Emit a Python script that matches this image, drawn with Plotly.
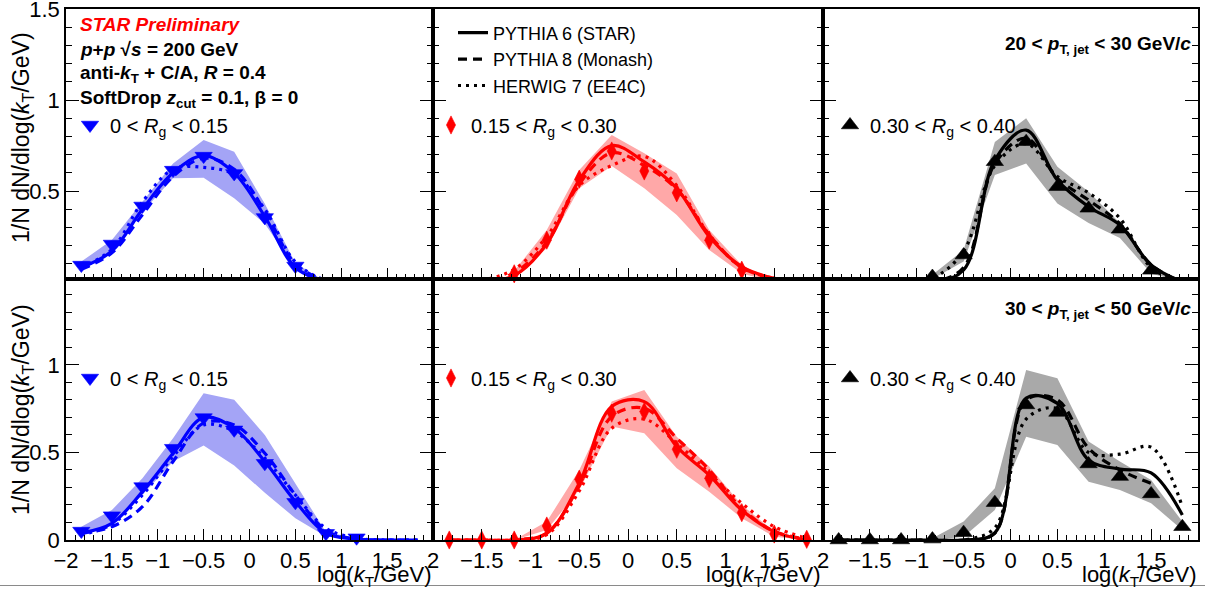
import plotly.graph_objects as go

# ---------------- data ----------------
XC = [-1.833, -1.5, -1.167, -0.833, -0.5, -0.167, 0.167, 0.5, 0.833, 1.167, 1.5, 1.833]

# 20 < pT < 30, 0 < Rg < 0.15 (blue)
tl_pts = [0.093, 0.209, 0.418, 0.615, 0.692, 0.597, 0.355, 0.088, None, None, None, None]
tl_hi = [0.112, 0.231, 0.441, 0.652, 0.780, 0.716, 0.430, 0.104, 0.0, None, None, None]
tl_lo = [0.066, 0.176, 0.386, 0.570, 0.573, 0.460, 0.320, 0.075, 0.0, None, None, None]
tl_p6 = [0.08, 0.17, 0.40, 0.60, 0.695, 0.60, 0.36, 0.08, 0.005, 0.0, None, None]
tl_p8 = [0.07, 0.16, 0.37, 0.58, 0.68, 0.62, 0.39, 0.10, 0.01, 0.0, None, None]
tl_h7 = [0.08, 0.18, 0.44, 0.62, 0.63, 0.59, 0.40, 0.11, 0.01, 0.0, None, None]

# 20 < pT < 30, 0.15 < Rg < 0.30 (red)
tm_pts = [None, None, 0.045, 0.23, 0.565, 0.72, 0.61, 0.49, 0.23, 0.065, None, None]
tm_hi = [None, None, 0.06, 0.286, 0.615, 0.808, 0.707, 0.597, 0.286, 0.093, 0.0, None]
tm_lo = [None, None, 0.03, 0.185, 0.515, 0.637, 0.515, 0.368, 0.176, 0.047, 0.0, None]
tm_p6 = [0.0, 0.0, 0.035, 0.21, 0.56, 0.75, 0.66, 0.515, 0.25, 0.084, 0.02, 0.0]
tm_p8 = [0.0, 0.0, 0.05, 0.22, 0.54, 0.71, 0.64, 0.51, 0.26, 0.08, 0.02, 0.0]
tm_h7 = [0.0, 0.01, 0.07, 0.25, 0.53, 0.64, 0.69, 0.53, 0.26, 0.08, 0.02, 0.0]

# 20 < pT < 30, 0.30 < Rg < 0.40 (black)
tr_pts = [None, None, None, 0.03, 0.148, 0.661, 0.771, 0.524, 0.405, 0.29, 0.064, None]
tr_hi = [None, None, None, 0.04, 0.176, 0.77, 0.90, 0.634, 0.496, 0.324, 0.093, 0.0]
tr_lo = [None, None, None, 0.017, 0.112, 0.588, 0.652, 0.432, 0.324, 0.242, 0.047, 0.0]
tr_p6 = [0.0, 0.0, 0.0, 0.0, 0.066, 0.67, 0.835, 0.56, 0.414, 0.313, 0.093, 0.0]
tr_p8 = [0.0, 0.0, 0.0, 0.0, 0.08, 0.65, 0.79, 0.57, 0.45, 0.32, 0.095, 0.0]
tr_h7 = [0.0, 0.0, 0.0, 0.02, 0.17, 0.64, 0.76, 0.58, 0.49, 0.35, 0.08, 0.0]

# 30 < pT < 50, 0 < Rg < 0.15 (blue)
bl_pts = [0.051, 0.139, 0.305, 0.524, 0.699, 0.629, 0.438, 0.215, 0.038, 0.013, None, None]
bl_hi = [0.076, 0.171, 0.352, 0.581, 0.838, 0.80, 0.60, 0.32, 0.045, 0.01, None, None]
bl_lo = [0.019, 0.095, 0.257, 0.448, 0.539, 0.425, 0.27, 0.124, 0.02, 0.0, None, None]
bl_p6 = [0.04, 0.095, 0.276, 0.495, 0.70, 0.638, 0.448, 0.22, 0.04, 0.005, 0.0, 0.0]
bl_p8 = [0.04, 0.076, 0.19, 0.448, 0.667, 0.657, 0.495, 0.257, 0.055, 0.005, 0.0, 0.0]
bl_h7 = [0.03, 0.09, 0.257, 0.476, 0.657, 0.62, 0.467, 0.257, 0.067, 0.01, 0.0, 0.0]

# 30 < pT < 50, 0.15 < Rg < 0.30 (red)
bm_pts = [0.0, 0.0, 0.0, 0.08, 0.347, 0.724, 0.733, 0.518, 0.352, 0.156, 0.034, 0.004]
bm_hi = [None, None, 0.0, 0.105, 0.40, 0.79, 0.857, 0.59, 0.419, 0.20, 0.048, 0.005]
bm_lo = [None, None, 0.0, 0.057, 0.286, 0.648, 0.61, 0.41, 0.276, 0.124, 0.019, 0.0]
bm_p6 = [0.0, 0.0, 0.0, 0.038, 0.324, 0.762, 0.79, 0.533, 0.371, 0.171, 0.048, 0.0]
bm_p8 = [0.0, 0.0, 0.0, 0.04, 0.31, 0.705, 0.752, 0.581, 0.40, 0.18, 0.05, 0.005]
bm_h7 = [0.0, 0.0, 0.0, 0.03, 0.28, 0.638, 0.69, 0.552, 0.381, 0.21, 0.076, 0.01]

# 30 < pT < 50, 0.30 < Rg < 0.40 (black)
br_pts = [0.0, 0.0, 0.0, 0.005, 0.042, 0.213, 0.771, 0.728, 0.434, 0.362, 0.263, 0.076]
br_hi = [None, None, None, 0.01, 0.105, 0.295, 0.971, 0.924, 0.562, 0.448, 0.343, 0.105]
br_lo = [None, None, None, 0.0, 0.019, 0.171, 0.59, 0.543, 0.333, 0.286, 0.21, 0.057]
br_p6 = [0.0, 0.0, 0.0, 0.0, 0.0, 0.04, 0.81, 0.78, 0.457, 0.405, 0.383, 0.143]
br_p8 = [0.0, 0.0, 0.0, 0.0, 0.0, 0.04, 0.80, 0.80, 0.524, 0.40, 0.324, None]
br_h7 = [0.0, 0.0, 0.0, 0.0, 0.0, 0.07, 0.69, 0.75, 0.50, 0.49, 0.53, 0.19]

RG_LABELS = ["0 < <i>R</i><sub>g</sub> < 0.15",
             "0.15 < <i>R</i><sub>g</sub> < 0.30",
             "0.30 < <i>R</i><sub>g</sub> < 0.40"]
MODEL_NAMES = ["PYTHIA 6 (STAR)", "PYTHIA 8 (Monash)", "HERWIG 7 (EE4C)"]
X_TICKS_L = [-2, -1.5, -1, -0.5, 0, 0.5, 1, 1.5, 2]
X_TICKS_M = [-1.5, -1, -0.5, 0, 0.5, 1, 1.5, 2]
X_TICKS_R = [-1.5, -1, -0.5, 0, 0.5, 1, 1.5]

# ---------------- styling ----------------
W, H = 1208, 590
FONT = "Liberation Sans, Arial, Helvetica, sans-serif"
COLORS = ["#0000ff", "#ff0000", "#000000"]
BANDS = ["#a4a4f6", "#ffa8a8", "#a9a9a9"]
SYMBOLS = ["triangle-down", "diamond-tall", "triangle-up"]
SIZES = [15, 13, 15]
DASHES = ["solid", "9px,6px", "3px,5px"]

def px(x):
    return x / W

def py(y):
    return 1 - y / H

xdom = [[px(66), px(433)], [px(433), px(823)], [px(823), px(1198)]]
ydom = [[py(279), py(9)], [py(540), py(279)]]

panels = [
    (tl_pts, tl_hi, tl_lo, tl_p6, tl_p8, tl_h7),
    (tm_pts, tm_hi, tm_lo, tm_p6, tm_p8, tm_h7),
    (tr_pts, tr_hi, tr_lo, tr_p6, tr_p8, tr_h7),
    (bl_pts, bl_hi, bl_lo, bl_p6, bl_p8, bl_h7),
    (bm_pts, bm_hi, bm_lo, bm_p6, bm_p8, bm_h7),
    (br_pts, br_hi, br_lo, br_p6, br_p8, br_h7),
]

fig = go.Figure()
layout = {}

for k, (pts, hi, lo, p6, p8, h7) in enumerate(panels):
    row, col = divmod(k, 3)
    n = k + 1
    xa = "x" if n == 1 else f"x{n}"
    ya = "y" if n == 1 else f"y{n}"
    c = COLORS[col]

    # systematic band polygon
    bx = [x for x, v in zip(XC, hi) if v is not None]
    bh = [v for v in hi if v is not None]
    bl = [v for v in lo if v is not None]
    fig.add_trace(go.Scatter(x=bx + bx[::-1], y=bh + bl[::-1], fill="toself",
                             fillcolor=BANDS[col], line=dict(width=0),
                             mode="lines", showlegend=False, hoverinfo="skip",
                             xaxis=xa, yaxis=ya))
    # model curves
    for curve, dash in zip((p6, p8, h7), DASHES):
        fig.add_trace(go.Scatter(x=XC, y=curve, mode="lines",
                                 line=dict(color=c, width=3.2, dash=dash, shape="spline"),
                                 showlegend=False, hoverinfo="skip",
                                 xaxis=xa, yaxis=ya))
    # data points
    lname = "legend" if n == 1 else f"legend{n}"
    fig.add_trace(go.Scatter(x=XC, y=pts, mode="markers",
                             marker=dict(symbol=SYMBOLS[col], size=SIZES[col], color=c,
                                         line=dict(width=0.6, color=c)),
                             name=RG_LABELS[col], legend=lname, showlegend=True,
                             cliponaxis=False, xaxis=xa, yaxis=ya))

    # axes
    xkey = "xaxis" if n == 1 else f"xaxis{n}"
    ykey = "yaxis" if n == 1 else f"yaxis{n}"
    tickvals = [X_TICKS_L, X_TICKS_M, X_TICKS_R][col]
    layout[xkey] = dict(domain=xdom[col], anchor=ya, range=[-2, 2], automargin=False,
                        tickvals=tickvals, ticks="inside", ticklen=11, tickwidth=1.3,
                        tickcolor="black", ticklabeloverflow="allow",
                        minor=dict(dtick=0.1, tick0=0, ticks="inside", ticklen=5,
                                   tickwidth=1.2, tickcolor="black"),
                        showticklabels=(row == 1),
                        tickfont=dict(size=22, color="black", family=FONT),
                        showline=True, linecolor="black", linewidth=1.6, mirror=True,
                        showgrid=False, zeroline=False, fixedrange=True)
    yrange = [0.0165, 1.5005] if row == 0 else [0, 1.49]
    layout[ykey] = dict(domain=ydom[row], anchor=xa, range=yrange, automargin=False,
                        tickvals=[0, 0.5, 1, 1.5], ticks="inside", ticklen=13,
                        tickwidth=1.3, tickcolor="black", ticklabeloverflow="allow",
                        minor=dict(dtick=0.1, tick0=0, ticks="inside", ticklen=6,
                                   tickwidth=1.2, tickcolor="black"),
                        showticklabels=(col == 0),
                        tickfont=dict(size=22, color="black", family=FONT),
                        showline=True, linecolor="black", linewidth=1.6, mirror="ticks",
                        showgrid=False, zeroline=False, fixedrange=True)

    # legend placement for the Rg label
    lx = [70, 431, 830][col]
    lyc = [125, 378][row]
    layout[lname] = dict(x=px(lx), y=py(lyc), xanchor="left", yanchor="middle",
                         bgcolor="rgba(0,0,0,0)", borderwidth=0,
                         font=dict(size=20, color="black", family=FONT),
                         itemwidth=30)

# model legend (black line samples)
for name, dash in zip(MODEL_NAMES, DASHES):
    fig.add_trace(go.Scatter(x=[None], y=[None], mode="lines",
                             line=dict(color="black", width=3.2, dash=dash),
                             name=name, legend="legend7", showlegend=True,
                             xaxis="x2", yaxis="y2"))
layout["legend7"] = dict(x=px(453), y=py(59.5), xanchor="left", yanchor="middle",
                         bgcolor="rgba(0,0,0,0)", borderwidth=0, tracegroupgap=0,
                         font=dict(size=18, color="black", family=FONT), itemwidth=30)

annotations = []

def ann(text, x, y, size, xanchor="left", color="black", angle=0, yanchor="middle"):
    annotations.append(dict(text=text, x=px(x), y=py(y), xref="paper", yref="paper",
                            xanchor=xanchor, yanchor=yanchor, showarrow=False,
                            textangle=angle,
                            font=dict(size=size, color=color, family=FONT)))

ann("<b><i>STAR Preliminary</i></b>", 78, 24, 19, color="#ff0000")
ann("<b><i>p</i>+<i>p</i> √<i>s</i> = 200 GeV</b>", 78, 49, 19)
ann("<b>anti-<i>k</i><sub>T</sub> + C/A, <i>R</i> = 0.4</b>", 78, 74, 19)
ann("<b>SoftDrop <i>z</i><sub>cut</sub> = 0.1, β = 0</b>", 78, 99, 19)
ann("<b>20 < <i>p</i><sub>T, jet</sub> < 30 GeV/<i>c</i></b>", 1193, 45, 19, xanchor="right")
ann("<b>30 < <i>p</i><sub>T, jet</sub> < 50 GeV/<i>c</i></b>", 1193, 310, 19, xanchor="right")

ytitle = "1/N dN/dlog(<i>k</i><sub>T</sub>/GeV)"
ann(ytitle, 22, 138, 23, xanchor="center", angle=-90)
ann(ytitle, 22, 410, 23, xanchor="center", angle=-90)
xtitle = "log(<i>k</i><sub>T</sub>/GeV)"
for xr in (434, 823, 1199):
    ann(xtitle, xr, 576, 22, xanchor="right")

layout["annotations"] = annotations
layout["shapes"] = [dict(type="line", xref="paper", yref="paper",
                         x0=0, x1=px(1205), y0=py(585.5), y1=py(585.5),
                         line=dict(color="#8a8a8a", width=1.2))]

fig.update_layout(width=W, height=H, margin=dict(l=0, r=0, t=0, b=0, autoexpand=False),
                  paper_bgcolor="white", plot_bgcolor="white",
                  font=dict(family=FONT, color="black"), **layout)

# remove the browser's default 8px page margin so the figure sits at (0, 0)
fig.write_html("out.html", config={"displayModeBar": False},
               post_script="document.body.style.margin='0px';"
                           "document.body.style.overflow='hidden';")
